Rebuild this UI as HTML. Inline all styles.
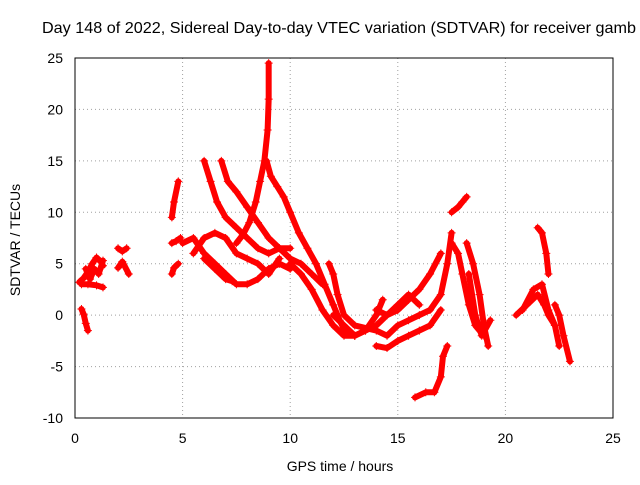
<!DOCTYPE html>
<html><head><meta charset="utf-8"><style>
body{margin:0;background:#fff;}
svg{font-family:"Liberation Sans",sans-serif;}
</style></head><body>
<svg id="chart" width="640" height="480" xmlns="http://www.w3.org/2000/svg">
<rect width="640" height="480" fill="#fff"/>
<g id="grid"></g>
<g id="series"></g>
<rect x="75" y="58" width="538" height="360" fill="none" stroke="#000" stroke-width="1"/>
<g id="ticks"></g>
<text x="42" y="33" font-size="16" textLength="594" lengthAdjust="spacingAndGlyphs">Day 148 of 2022, Sidereal Day-to-day VTEC variation (SDTVAR) for receiver gamb</text>
<text x="340" y="471" font-size="14" text-anchor="middle">GPS time / hours</text>
<text transform="translate(20,240) rotate(-90)" font-size="14" text-anchor="middle">SDTVAR / TECUs</text>
</svg>
<script>
const xTicks=[0,5,10,15,20,25];
const yTicks=[-10,-5,0,5,10,15,20,25];
const tracks=[
[[0.2,3.2],[0.4,3.6],[0.6,4.2],[0.8,5],[1.0,5.6],[1.2,5.2],[1.3,4.8]],
[[0.3,3.0],[0.6,3.0],[1.0,2.9],[1.3,2.7]],
[[0.5,4.5],[0.7,3.5],[0.9,4.5],[1.1,4.0],[1.3,5.3]],
[[0.3,0.6],[0.4,0.1],[0.5,-0.8],[0.6,-1.5]],
[[2.0,6.5],[2.2,6.2],[2.4,6.5]],
[[2.0,4.6],[2.2,5.2],[2.5,4.0]],
[[4.5,9.5],[4.6,11],[4.8,13]],
[[4.5,7],[4.7,7.2],[4.9,7.5]],
[[4.5,4],[4.6,4.6],[4.8,5]],
[[6.0,15],[6.3,13],[6.6,11],[7.0,9.5],[7.5,8.5],[8,7.5],[8.5,6.5],[9,6],[9.5,6.5],[10,6.5]],
[[6.8,15],[7.1,13],[7.5,12],[8,10.5],[8.5,9],[9,7.5],[9.5,6.5],[10,5.5],[10.5,5],[11,4],[11.5,3]],
[[9.0,24.5],[9.0,21],[8.95,18],[8.8,15],[8.6,13],[8.4,11],[8.1,9],[7.8,7.8],[7.5,7]],
[[8.9,15],[9.1,13.5],[9.4,12.5],[9.7,11.5],[10,10],[10.4,8],[10.8,6.5],[11.2,5],[11.6,3],[12,1],[12.3,-0.5],[12.6,-1.8],[13,-2]],
[[5,7],[5.5,7.5],[6,6],[6.5,5],[7,4],[7.5,3],[8,3],[8.5,3.5],[9,4.5],[9.5,5],[10,4.5]],
[[5.5,6],[6,7.5],[6.5,8],[7,7.5],[7.5,6],[8,5.5],[8.5,5],[9,4],[9.5,5.5]],
[[6,5.5],[6.5,4.5],[7,3.5],[7.3,3.3]],
[[10,5],[10.5,4],[11,2.5],[11.5,0.5],[12,-1],[12.5,-2],[13,-2],[13.5,-1.5],[14,-1],[14.5,0],[15,1],[15.5,2],[16,1]],
[[11.8,5],[12,4],[12.2,2],[12.5,0],[13,-1],[14,-1.5],[14.5,-2],[15,-1],[15.5,-0.5],[16,0],[16.5,0.5],[17,2],[17.3,5],[17.5,8]],
[[14,-3],[14.5,-3.2],[15,-2.5],[15.5,-2],[16,-1.5],[16.5,-1],[17,0.5]],
[[12,0],[12.5,-1],[13,-2],[13.5,-1.5],[14,0],[14.3,1.5]],
[[14,0.5],[14.5,0],[15,0.5],[15.5,1.5],[16,2.5],[16.5,4],[17,6]],
[[15.8,-8],[16.3,-7.5],[16.7,-7.5],[17,-6],[17.1,-4],[17.3,-3]],
[[17.5,10],[17.8,10.5],[18,11],[18.2,11.5]],
[[17.5,7],[17.8,6],[18,4],[18.3,1],[18.6,-1],[19,-2]],
[[18.2,7],[18.5,5],[18.8,2],[19,-1],[19.2,-3]],
[[18.3,4],[18.6,0],[18.9,-2],[19.3,-0.5]],
[[21.5,8.5],[21.7,8],[21.9,6],[22,4]],
[[20.5,0],[21,1],[21.5,2],[21.8,1],[22,0],[22.3,-1],[22.5,-3]],
[[20.8,0.5],[21.3,2.5],[21.7,3],[22,0.5],[22.3,-1]],
[[22.3,1],[22.5,0],[22.7,-2],[23,-4.5]]
];
const NS="http://www.w3.org/2000/svg";
const X=v=>75+v*538/25;
const Y=v=>418-(v+10)*360/35;
const grid=document.getElementById('grid'),ticks=document.getElementById('ticks'),ser=document.getElementById('series');
function mk(tag,attrs,parent){const e=document.createElementNS(NS,tag);for(const k in attrs)e.setAttribute(k,attrs[k]);parent.appendChild(e);return e;}
xTicks.forEach(t=>{
 if(t>0&&t<25){const g=mk('line',{x1:X(t),x2:X(t),y1:58,y2:418,stroke:'#a0a0a0','stroke-dasharray':'1,3'},grid);
 
 }
 const l=mk('text',{x:X(t),y:443,'font-size':14,'text-anchor':'middle'},ticks);l.textContent=t;
 
 
});
yTicks.forEach(t=>{
 if(t>-10&&t<25){const g=mk('line',{x1:75,x2:613,y1:Y(t),y2:Y(t),stroke:'#a0a0a0','stroke-dasharray':'1,3'},grid);
 
 }
 const l=mk('text',{x:63,y:Y(t)+5,'font-size':14,'text-anchor':'end'},ticks);l.textContent=t;
 
 
});
tracks.forEach(tr=>{
 const p=mk('polyline',{points:tr.map(d=>X(d[0])+','+Y(d[1])).join(' '),fill:'none',stroke:'#f00','stroke-width':6,'stroke-linejoin':'round','stroke-linecap':'round'},ser);
 
 
 tr.forEach(d=>{
  const m=mk('path',{d:`M${X(d[0])-4},${Y(d[1])}h8M${X(d[0])},${Y(d[1])-4}v8`,stroke:'#f00','stroke-width':1},ser);
  
  
 });
});
</script>
</body></html>
